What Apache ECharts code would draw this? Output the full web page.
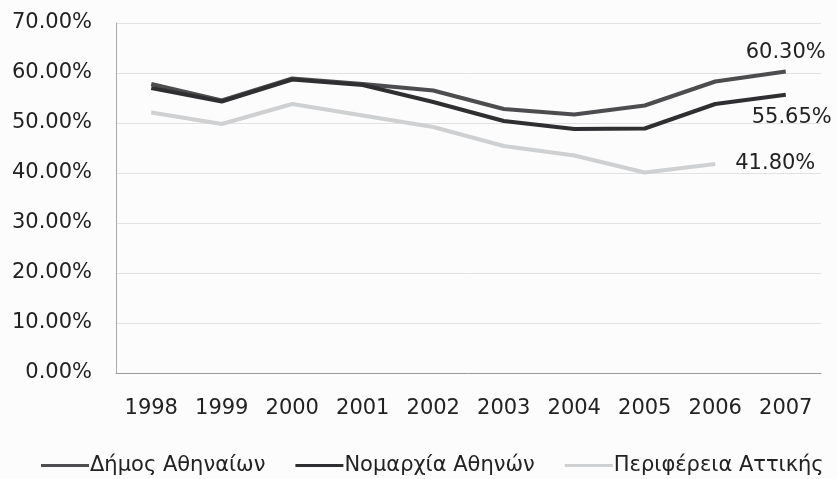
<!DOCTYPE html>
<html>
<head>
<meta charset="utf-8">
<script src="https://cdn.jsdelivr.net/npm/echarts@6/dist/echarts.min.js"></script>
<style>
  html, body { margin: 0; padding: 0; background: #fcfcfc; }
  #chart { width: 837px; height: 479px; }
</style>
</head>
<body>
<div id="chart"></div>
<script>
const years = ['1998', '1999', '2000', '2001', '2002', '2003', '2004', '2005', '2006', '2007']
const dimos = [57.8, 54.5, 58.9, 57.8, 56.5, 52.8, 51.7, 53.5, 58.3, 60.30]
const nomarxia = [57.0, 54.3, 58.7, 57.6, 54.2, 50.4, 48.8, 48.9, 53.8, 55.65]
const perifereia = [52.1, 49.8, 53.8, 51.5, 49.2, 45.4, 43.5, 40.1, 41.80, null]
const names = ['Δήμος Αθηναίων', 'Νομαρχία Αθηνών', 'Περιφέρεια Αττικής']
const colors = ['#4d4d4f', '#2f2f31', '#cfd0d2']

const font = 'DejaVu Sans'
const textColor = '#222'

// put a label only on the last point of a series
function withEndLabel(values, idx, label) {
  return values.map((v, i) => {
    if (i !== idx) return v
    return {
      value: v,
      label: Object.assign({
        show: true, fontFamily: font, fontSize: 21, color: textColor,
        formatter: p => p.value.toFixed(2) + '%'
      }, label)
    }
  })
}

const chart = echarts.init(document.getElementById('chart'))
chart.setOption({
  backgroundColor: '#fcfcfc',
  animation: false,
  grid: { left: 116, right: 16, top: 23, bottom: 106 },
  legend: {
    bottom: -2,
    left: 36,
    itemWidth: 48,
    itemHeight: 3,
    itemGap: 30,
    icon: 'rect',
    textStyle: { fontFamily: font, fontSize: 21, color: textColor, padding: [0, 0, 0, -4] },
    data: names
  },
  xAxis: {
    type: 'category',
    data: years,
    axisLine: { lineStyle: { color: '#9a9a9a' } },
    axisTick: { show: false },
    axisLabel: { fontFamily: font, fontSize: 21, color: textColor, margin: 25 }
  },
  yAxis: {
    type: 'value',
    min: 0,
    max: 70,
    interval: 10,
    axisLine: { show: true, lineStyle: { color: '#aaa' } },
    axisTick: { show: false },
    splitLine: { lineStyle: { color: '#e2e2e2' } },
    axisLabel: {
      fontFamily: font, fontSize: 21, color: textColor, margin: 24,
      formatter: v => v.toFixed(2) + '%'
    }
  },
  series: [
    {
      name: names[0], type: 'line', symbol: 'circle', symbolSize: 0, showSymbol: true,
      lineStyle: { width: 4, color: colors[0] }, itemStyle: { color: colors[0] },
      data: withEndLabel(dimos, 9, { position: 'top', distance: 8 })
    },
    {
      name: names[1], type: 'line', symbol: 'circle', symbolSize: 0, showSymbol: true,
      lineStyle: { width: 4, color: colors[1] }, itemStyle: { color: colors[1] },
      data: withEndLabel(nomarxia, 9, { position: 'bottom', distance: 12, offset: [6, 0] })
    },
    {
      name: names[2], type: 'line', symbol: 'circle', symbolSize: 0, showSymbol: true,
      lineStyle: { width: 4, color: colors[2] }, itemStyle: { color: colors[2] },
      data: withEndLabel(perifereia, 8, { position: 'right', distance: 20 })
    }
  ]
})
</script>
</body>
</html>
